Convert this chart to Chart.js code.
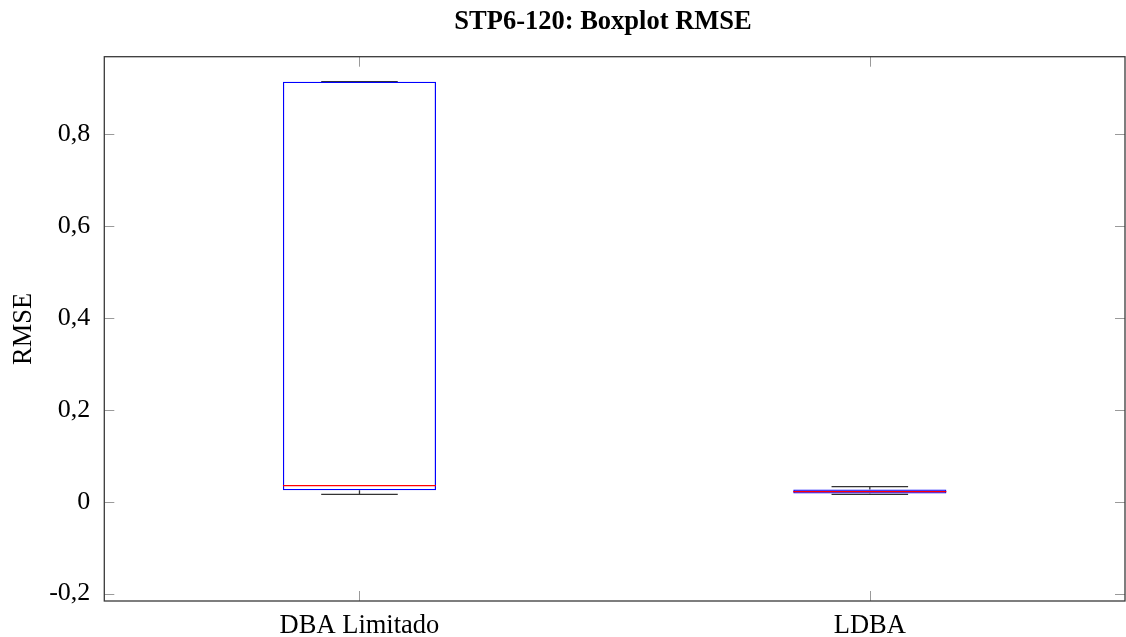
<!DOCTYPE html>
<html>
<head>
<meta charset="utf-8">
<script src="https://cdn.jsdelivr.net/npm/chart.js@4/dist/chart.umd.min.js"></script>
<style>
  html, body { margin: 0; padding: 0; background: #fff; }
  #wrap { width: 1126px; height: 637px; position: relative; }
</style>
</head>
<body>
<div id="wrap"><canvas id="c" width="1126" height="637"></canvas></div>
<script>
// Box plot statistics per method (RMSE)
const categories = ['DBA Limitado', 'LDBA'];
const whiskerLow  = [0.0163, 0.0163];
const q1          = [0.0251, 0.0179];
const median      = [0.0353, 0.0222];
const q3          = [0.9146, 0.0266];
const whiskerHigh = [0.9146, 0.0331];
const yTicks = [-0.2, 0, 0.2, 0.4, 0.6, 0.8];
const yMin = -0.216, yMax = 0.969;
const chartTitle = 'STP6-120: Boxplot RMSE';

const FONT = "'Liberation Serif', 'Times New Roman', serif";

// Whiskers go under the boxes, the median line on top of them
const boxExtras = {
  id: 'boxExtras',
  beforeDatasetsDraw(chart) {
    const ctx = chart.ctx;
    const xs = chart.scales.x, ys = chart.scales.y;
    const meta = chart.getDatasetMeta(0);
    ctx.save();
    ctx.strokeStyle = '#333';
    ctx.lineWidth = 1.3;
    categories.forEach((_, i) => {
      const x = xs.getPixelForValue(i);
      const cap = meta.data[i].width / 4;
      const yl = ys.getPixelForValue(whiskerLow[i]);
      const yh = ys.getPixelForValue(whiskerHigh[i]);
      ctx.beginPath();
      ctx.moveTo(x, ys.getPixelForValue(q1[i])); ctx.lineTo(x, yl);
      ctx.moveTo(x - cap, yl); ctx.lineTo(x + cap, yl);
      ctx.moveTo(x, ys.getPixelForValue(q3[i])); ctx.lineTo(x, yh);
      ctx.moveTo(x - cap, yh); ctx.lineTo(x + cap, yh);
      ctx.stroke();
    });
    ctx.restore();
  },
  afterDatasetsDraw(chart) {
    const ctx = chart.ctx;
    const xs = chart.scales.x, ys = chart.scales.y;
    const meta = chart.getDatasetMeta(0);
    ctx.save();
    ctx.strokeStyle = '#ff0000';
    ctx.lineWidth = 1.2;
    categories.forEach((_, i) => {
      const x = xs.getPixelForValue(i);
      const half = meta.data[i].width / 2;
      const ym = ys.getPixelForValue(median[i]);
      ctx.beginPath();
      ctx.moveTo(x - half, ym); ctx.lineTo(x + half, ym);
      ctx.stroke();
    });
    ctx.restore();
  }
};

// Axis frame with inward ticks on all four sides, plus the title above the axis
const frame = {
  id: 'frame',
  afterDraw(chart) {
    const ctx = chart.ctx;
    const a = chart.chartArea;
    const xs = chart.scales.x, ys = chart.scales.y;
    const tl = 10;
    ctx.save();
    ctx.strokeStyle = '#9a9a9a';
    ctx.lineWidth = 1;
    ctx.beginPath();
    yTicks.forEach(v => {
      const y = Math.round(ys.getPixelForValue(v)) + 0.5;
      ctx.moveTo(a.left, y); ctx.lineTo(a.left + tl, y);
      ctx.moveTo(a.right, y); ctx.lineTo(a.right - tl, y);
    });
    categories.forEach((_, i) => {
      const x = Math.round(xs.getPixelForValue(i)) + 0.5;
      ctx.moveTo(x, a.bottom); ctx.lineTo(x, a.bottom - tl);
      ctx.moveTo(x, a.top); ctx.lineTo(x, a.top + tl);
    });
    ctx.stroke();
    ctx.strokeStyle = '#3a3a3a';
    ctx.lineWidth = 1.3;
    ctx.strokeRect(a.left, a.top, a.right - a.left, a.bottom - a.top);

    ctx.fillStyle = '#000';
    ctx.font = 'bold 26.5px ' + FONT;
    ctx.textAlign = 'center';
    ctx.textBaseline = 'alphabetic';
    ctx.fillText(chartTitle, 603, 28.5);
    ctx.restore();
  }
};

new Chart(document.getElementById('c'), {
  type: 'bar',
  data: {
    labels: categories,
    datasets: [{
      data: categories.map((_, i) => [q1[i], q3[i]]),
      backgroundColor: 'rgba(0,0,0,0)',
      borderColor: '#0000ff',
      borderWidth: 1.2,
      borderSkipped: false,
      categoryPercentage: 1,
      barPercentage: 0.3
    }]
  },
  options: {
    responsive: false,
    animation: false,
    devicePixelRatio: 1,
    layout: { padding: { left: 0, right: 1, top: 56.7, bottom: 0 } },
    plugins: {
      legend: { display: false },
      tooltip: { enabled: false },
      title: { display: false }
    },
    scales: {
      x: {
        type: 'category',
        offset: true,
        grid: { display: false, drawTicks: false },
        border: { display: false },
        ticks: { color: '#000', font: { family: FONT, size: 26.5 }, padding: 9 },
        afterFit(s) { s.height = 36; }
      },
      y: {
        min: yMin,
        max: yMax,
        grid: { display: false, drawTicks: false },
        border: { display: false },
        afterBuildTicks(s) { s.ticks = yTicks.map(v => ({ value: v })); },
        ticks: {
          color: '#000',
          font: { family: FONT, size: 26 },
          padding: 14,
          callback: v => (Math.abs(v) < 1e-9 ? '0' : v.toFixed(1).replace('.', ','))
        },
        title: {
          display: true,
          text: 'RMSE',
          color: '#000',
          font: { family: FONT, size: 26.5 },
          padding: { top: 8, bottom: 0 }
        },
        afterFit(s) { s.width = 104.3; }
      }
    }
  },
  plugins: [boxExtras, frame]
});
</script>
</body>
</html>
